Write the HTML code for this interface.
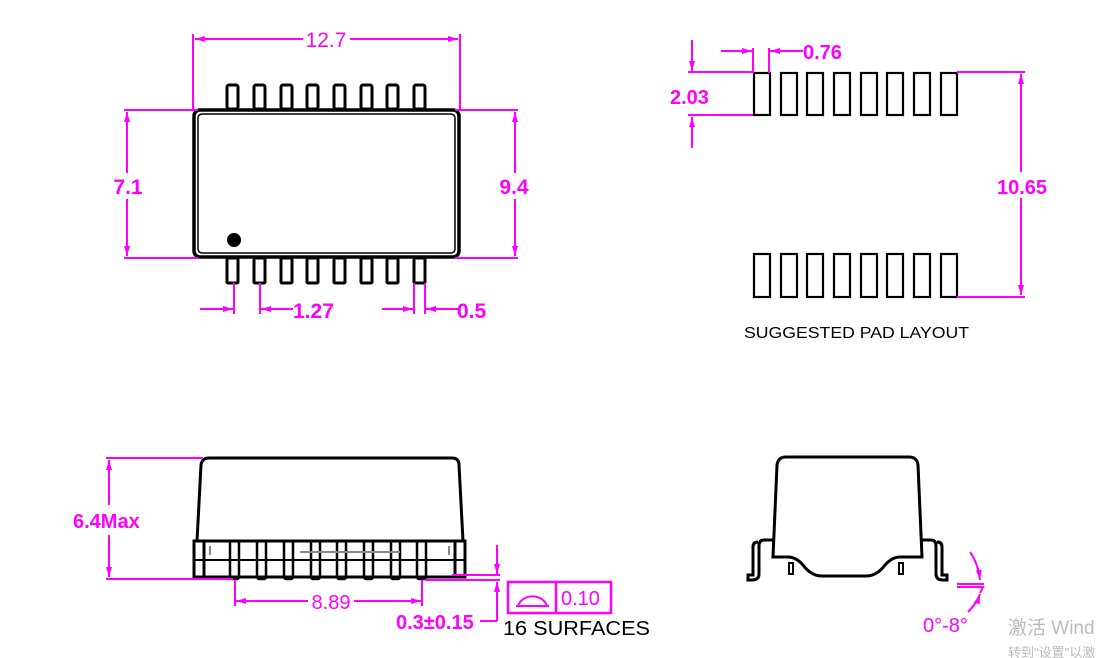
<!DOCTYPE html>
<html><head><meta charset="utf-8"><style>
html,body{margin:0;padding:0;background:#fff;width:1105px;height:658px;overflow:hidden}
svg{display:block}
text{font-family:"Liberation Sans",Arial,sans-serif}
</style></head><body>
<svg width="1105" height="658" viewBox="0 0 1105 658" xmlns="http://www.w3.org/2000/svg">
<defs>
<marker id="a" viewBox="0 0 10 6" refX="10" refY="3" markerWidth="10" markerHeight="6" orient="auto" markerUnits="userSpaceOnUse"><path d="M0,0 L10,3 L0,6 z" fill="#f0f"/></marker>
</defs>
<g fill="none" stroke="#000" stroke-width="3">
<g>
<rect x="227" y="85" width="11" height="24" rx="2"/><rect x="254" y="85" width="11" height="24" rx="2"/><rect x="281" y="85" width="11" height="24" rx="2"/><rect x="307" y="85" width="11" height="24" rx="2"/><rect x="334" y="85" width="11" height="24" rx="2"/><rect x="361" y="85" width="11" height="24" rx="2"/><rect x="387" y="85" width="11" height="24" rx="2"/><rect x="414" y="85" width="11" height="24" rx="2"/>
</g>
<g>
<rect x="227" y="258" width="11" height="25" rx="1"/><rect x="254" y="258" width="11" height="25" rx="1"/><rect x="281" y="258" width="11" height="25" rx="1"/><rect x="307" y="258" width="11" height="25" rx="1"/><rect x="334" y="258" width="11" height="25" rx="1"/><rect x="361" y="258" width="11" height="25" rx="1"/><rect x="387" y="258" width="11" height="25" rx="1"/><rect x="414" y="258" width="11" height="25" rx="1"/>
</g>
<rect x="194" y="110" width="265" height="147" rx="6" fill="#fff" stroke-width="3.5"/>
<rect x="198" y="114" width="257" height="139" rx="4" stroke-width="1.5"/>
</g>
<circle cx="234" cy="240" r="7" fill="#000"/>

<g stroke="#f0f" stroke-width="2" fill="none">
<path d="M193 34V109M460 34V109"/>
<path d="M303 39H195" marker-end="url(#a)"/><path d="M350 39H458" marker-end="url(#a)"/>
<path d="M124 110H198M124 258H198"/>
<path d="M127 173V112" marker-end="url(#a)"/><path d="M127 199V256" marker-end="url(#a)"/>
<path d="M455 110H518M455 258H518"/>
<path d="M515 173V112" marker-end="url(#a)"/><path d="M515 199V256" marker-end="url(#a)"/>
<path d="M234 283V314M260 283V314M414 283V314M425 283V314"/>
<path d="M200 309H233" marker-end="url(#a)"/><path d="M293 309H261" marker-end="url(#a)"/>
<path d="M382 309H413" marker-end="url(#a)"/><path d="M458 309H426" marker-end="url(#a)"/>
</g>
<g fill="#f0f" font-size="21">
<text x="326" y="47" text-anchor="middle">12.7</text>
<text x="128" y="194" text-anchor="middle" font-weight="bold">7.1</text>
<text x="514" y="194" text-anchor="middle" font-weight="bold">9.4</text>
<text x="293" y="318" font-weight="bold">1.27</text>
<text x="457" y="318" font-weight="bold">0.5</text>
</g>

<g fill="none" stroke="#000" stroke-width="2.2">
<rect x="754" y="73" width="16" height="42"/><rect x="781" y="73" width="16" height="42"/><rect x="807" y="73" width="16" height="42"/><rect x="834" y="73" width="16" height="42"/><rect x="861" y="73" width="16" height="42"/><rect x="887" y="73" width="16" height="42"/><rect x="914" y="73" width="16" height="42"/><rect x="941" y="73" width="16" height="42"/>
<rect x="754" y="254" width="16" height="43"/><rect x="781" y="254" width="16" height="43"/><rect x="807" y="254" width="16" height="43"/><rect x="834" y="254" width="16" height="43"/><rect x="861" y="254" width="16" height="43"/><rect x="887" y="254" width="16" height="43"/><rect x="914" y="254" width="16" height="43"/><rect x="941" y="254" width="16" height="43"/>
</g>
<g stroke="#f0f" stroke-width="2" fill="none">
<path d="M688 72H753M688 115H753"/>
<path d="M692 40V71" marker-end="url(#a)"/><path d="M692 148V117" marker-end="url(#a)"/>
<path d="M753 48V73M769 48V73"/>
<path d="M721 51H752" marker-end="url(#a)"/><path d="M803 51H770" marker-end="url(#a)"/>
<path d="M957 72H1025M957 297H1025"/>
<path d="M1021 172V74" marker-end="url(#a)"/><path d="M1021 198V295" marker-end="url(#a)"/>
</g>
<g fill="#f0f" font-size="20" font-weight="bold">
<text x="803" y="59">0.76</text>
<text x="670" y="104">2.03</text>
<text x="1022" y="194" text-anchor="middle">10.65</text>
</g>
<text x="744" y="338" font-size="16" fill="#000" textLength="225" lengthAdjust="spacingAndGlyphs">SUGGESTED PAD LAYOUT</text>

<g fill="none" stroke="#000" stroke-width="3">
<path d="M197 541L201 465Q202 458 209 458H452Q459 458 459 465L463 541"/>
<rect x="194" y="541" width="271" height="36" fill="#fff"/>
<path d="M194 560H465" stroke-width="2"/>
<rect x="194" y="541" width="10" height="36"/><rect x="455" y="541" width="10" height="36"/>
</g>
<g fill="none" stroke="#000" stroke-width="2.5">
<rect x="230" y="541" width="9" height="38" rx="2"/><rect x="257" y="541" width="9" height="38" rx="2"/><rect x="284" y="541" width="9" height="38" rx="2"/><rect x="311" y="541" width="9" height="38" rx="2"/><rect x="337" y="541" width="9" height="38" rx="2"/><rect x="364" y="541" width="9" height="38" rx="2"/><rect x="391" y="541" width="9" height="38" rx="2"/><rect x="417" y="541" width="9" height="38" rx="2"/>
</g>
<g stroke="#888" stroke-width="2"><path d="M210 546V555M449 546V555M300 552H400"/></g>
<g stroke="#f0f" stroke-width="2" fill="none">
<path d="M106 458H203M106 579H233"/>
<path d="M109 505V460" marker-end="url(#a)"/><path d="M109 535V577" marker-end="url(#a)"/>
<path d="M235 580V606M422 580V606"/>
<path d="M308 601H236" marker-end="url(#a)"/><path d="M354 601H421" marker-end="url(#a)"/>
<path d="M452 575H500M425 580H500"/>
<path d="M497 545V574" marker-end="url(#a)"/><path d="M497 621V582" marker-end="url(#a)"/><path d="M480 621H497"/>
<rect x="508" y="582" width="103" height="31" stroke-width="2.5"/><path d="M556 582V613" stroke-width="2.5"/>
<path d="M516 606H549M518 606A15 13 0 0 1 547 606"/>
</g>
<g fill="#f0f" font-size="20">
<text x="73" y="528" font-weight="bold">6.4Max</text>
<text x="331" y="609" text-anchor="middle">8.89</text>
<text x="396" y="629" font-weight="bold">0.3±0.15</text>
<text x="561" y="605">0.10</text>
</g>
<text x="503" y="635" font-size="20" fill="#000" textLength="147" lengthAdjust="spacingAndGlyphs">16 SURFACES</text>

<g fill="none" stroke="#000" stroke-width="3">
<path d="M773 557L777 465Q778 457 786 457H909Q917 457 918 465L922 557H900Q892 557 885 565Q877 576 866 576H822Q811 576 803 565Q796 557 788 557Z"/>
<path d="M773 540H764Q759 540 759 546V574Q759 580 752 580H748V575H753V547Q753 542 758 542"/>
<path d="M922 540H931Q936 540 936 546V574Q936 580 943 580H947V575H942V547Q942 542 937 542"/>
<rect x="789" y="563" width="4" height="11" stroke-width="2"/><rect x="899" y="563" width="4" height="11" stroke-width="2"/>
</g>
<g stroke="#f0f" stroke-width="2" fill="none">
<path d="M957 584H984M957 587H983L980 593"/>
<path d="M970 552Q978 563 980 580" marker-end="url(#a)"/>
<path d="M968 612Q977 603 980 594" marker-end="url(#a)"/>
</g>
<text x="923" y="632" font-size="20" fill="#f0f">0°-8°</text>
<text x="1008" y="634" font-size="19" fill="#bbb" font-family="Liberation Sans,'Noto Sans CJK SC',sans-serif">激活 Wind</text>
<text x="1008" y="657" font-size="13" fill="#bbb" font-family="Liberation Sans,'Noto Sans CJK SC',sans-serif">转到"设置"以激</text>
</svg>
</body></html>
